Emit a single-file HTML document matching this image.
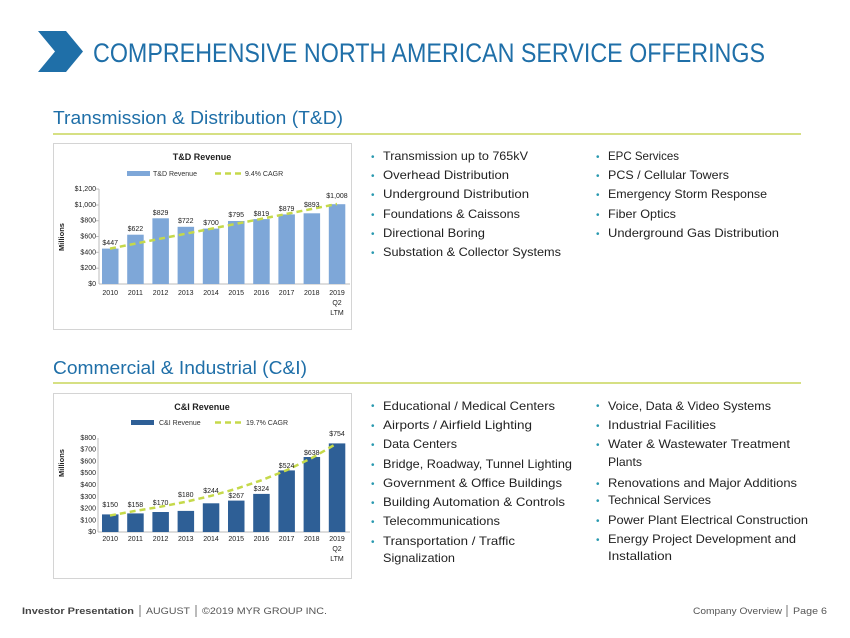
<!DOCTYPE html>
<html><head><meta charset="utf-8"><style>
html,body{margin:0;padding:0;background:#fff;}
svg{display:block;font-family:"Liberation Sans",sans-serif;}
</style></head><body>
<svg width="850" height="638" viewBox="0 0 850 638" xmlns="http://www.w3.org/2000/svg">
<rect width="850" height="638" fill="#fff"/>
<!-- header -->
<polygon points="38,31 66,31 83,51.5 66,72 38,72 55,51.5" fill="#1f6fa8"/>
<text x="93" y="62" font-size="27" fill="#1f6fa8" textLength="672" lengthAdjust="spacingAndGlyphs">COMPREHENSIVE NORTH AMERICAN SERVICE OFFERINGS</text>

<text x="53" y="124" font-size="18" fill="#1f6fa8" textLength="290" lengthAdjust="spacingAndGlyphs">Transmission &amp; Distribution (T&amp;D)</text>
<line x1="53" y1="134" x2="801" y2="134" stroke="#c8d65a" stroke-width="1.5"/>
<text x="53" y="374" font-size="18" fill="#1f6fa8" textLength="254" lengthAdjust="spacingAndGlyphs">Commercial &amp; Industrial (C&amp;I)</text>
<line x1="53" y1="383" x2="801" y2="383" stroke="#c8d65a" stroke-width="1.5"/>

<!-- chart 1 -->
<rect x="53.5" y="143.5" width="298" height="186" fill="#fff" stroke="#d4d4d4"/>
<text x="202" y="160" font-size="9" font-weight="bold" text-anchor="middle" fill="#222">T&amp;D Revenue</text>
<rect x="127" y="171" width="23" height="5" fill="#7ea7d8"/>
<text x="153" y="176" font-size="7" fill="#333">T&amp;D Revenue</text>
<line x1="215" y1="173.5" x2="243" y2="173.5" stroke="#c5d94a" stroke-width="2.5" stroke-dasharray="6,4"/>
<text x="245" y="176" font-size="7" fill="#333">9.4% CAGR</text>
<g font-size="7" fill="#222" text-anchor="end">
<text x="96" y="286">$0</text><text x="96" y="270">$200</text><text x="96" y="254.5">$400</text><text x="96" y="238.5">$600</text><text x="96" y="222.5">$800</text><text x="96" y="207">$1,000</text><text x="96" y="191">$1,200</text>
</g>
<g stroke="#bbb" stroke-width="1"><line x1="99" y1="189" x2="99" y2="284"/><line x1="99" y1="284" x2="350" y2="284"/>
<line x1="96" y1="189" x2="99" y2="189"/><line x1="96" y1="205" x2="99" y2="205"/><line x1="96" y1="220.7" x2="99" y2="220.7"/><line x1="96" y1="236.5" x2="99" y2="236.5"/><line x1="96" y1="252.3" x2="99" y2="252.3"/><line x1="96" y1="268.2" x2="99" y2="268.2"/></g>
<text x="0" y="0" font-size="7.5" font-weight="bold" fill="#222" transform="translate(64,237) rotate(-90)" text-anchor="middle">Millions</text>
<g fill="#7ea7d8">
<rect x="102" y="248.6" width="16.5" height="35.4"/>
<rect x="127.2" y="234.7" width="16.5" height="49.3"/>
<rect x="152.4" y="218.3" width="16.5" height="65.7"/>
<rect x="177.6" y="226.8" width="16.5" height="57.2"/>
<rect x="202.8" y="228.6" width="16.5" height="55.4"/>
<rect x="228" y="221" width="16.5" height="63"/>
<rect x="253.2" y="219.1" width="16.5" height="64.9"/>
<rect x="278.4" y="214.4" width="16.5" height="69.6"/>
<rect x="303.6" y="213.3" width="16.5" height="70.7"/>
<rect x="328.8" y="204.2" width="16.5" height="79.8"/>
</g>
<line x1="110" y1="248.6" x2="337" y2="204" stroke="#c5d94a" stroke-width="2.5" stroke-dasharray="6,4"/>
<g font-size="7" fill="#222" text-anchor="middle">
<text x="110.2" y="245">$447</text><text x="135.4" y="231">$622</text><text x="160.6" y="215">$829</text><text x="185.8" y="223">$722</text><text x="211" y="225">$700</text><text x="236.2" y="217">$795</text><text x="261.4" y="216">$819</text><text x="286.6" y="211">$879</text><text x="311.8" y="207">$893</text><text x="337" y="198">$1,008</text>
</g>
<g font-size="7" fill="#222" text-anchor="middle">
<text x="110.2" y="295">2010</text><text x="135.4" y="295">2011</text><text x="160.6" y="295">2012</text><text x="185.8" y="295">2013</text><text x="211" y="295">2014</text><text x="236.2" y="295">2015</text><text x="261.4" y="295">2016</text><text x="286.6" y="295">2017</text><text x="311.8" y="295">2018</text><text x="337" y="295">2019</text><text x="337" y="305">Q2</text><text x="337" y="315">LTM</text>
</g>

<!-- chart 2 -->
<rect x="53.5" y="393.5" width="298" height="185" fill="#fff" stroke="#d4d4d4"/>
<text x="202" y="410" font-size="9" font-weight="bold" text-anchor="middle" fill="#222">C&amp;I Revenue</text>
<rect x="131" y="420" width="23" height="5" fill="#2e5f96"/>
<text x="159" y="425" font-size="7" fill="#333">C&amp;I Revenue</text>
<line x1="215" y1="422.5" x2="243" y2="422.5" stroke="#c5d94a" stroke-width="2.5" stroke-dasharray="6,4"/>
<text x="246" y="425" font-size="7" fill="#333">19.7% CAGR</text>
<g font-size="7" fill="#222" text-anchor="end">
<text x="96" y="534">$0</text><text x="96" y="522.5">$100</text><text x="96" y="510.5">$200</text><text x="96" y="499">$300</text><text x="96" y="487">$400</text><text x="96" y="475">$500</text><text x="96" y="463.5">$600</text><text x="96" y="451.5">$700</text><text x="96" y="440">$800</text>
</g>
<g stroke="#bbb" stroke-width="1"><line x1="98" y1="438" x2="98" y2="532"/><line x1="98" y1="532" x2="350" y2="532"/></g>
<text x="0" y="0" font-size="7.5" font-weight="bold" fill="#222" transform="translate(64,463) rotate(-90)" text-anchor="middle">Millions</text>
<g fill="#2e5f96">
<rect x="102" y="514.4" width="16.5" height="17.6"/>
<rect x="127.2" y="513.4" width="16.5" height="18.6"/>
<rect x="152.4" y="512" width="16.5" height="20"/>
<rect x="177.6" y="510.9" width="16.5" height="21.1"/>
<rect x="202.8" y="503.3" width="16.5" height="28.7"/>
<rect x="228" y="500.6" width="16.5" height="31.4"/>
<rect x="253.2" y="493.9" width="16.5" height="38.1"/>
<rect x="278.4" y="470.4" width="16.5" height="61.6"/>
<rect x="303.6" y="457" width="16.5" height="75"/>
<rect x="328.8" y="443.4" width="16.5" height="88.6"/>
</g>
<polyline points="110,515.5 135.4,510.9 160.6,506.7 185.8,501.8 211,495.9 236.2,488.8 261.4,480.3 286.6,470.2 311.8,458 337,443.4" fill="none" stroke="#c5d94a" stroke-width="2.5" stroke-dasharray="6,4"/>
<g font-size="7" fill="#222" text-anchor="middle">
<text x="110.2" y="507">$150</text><text x="135.4" y="507">$158</text><text x="160.6" y="505">$170</text><text x="185.8" y="497">$180</text><text x="211" y="493">$244</text><text x="236.2" y="498">$267</text><text x="261.4" y="491">$324</text><text x="286.6" y="468">$524</text><text x="311.8" y="455">$638</text><text x="337" y="436">$754</text>
</g>
<g font-size="7" fill="#222" text-anchor="middle">
<text x="110.2" y="541">2010</text><text x="135.4" y="541">2011</text><text x="160.6" y="541">2012</text><text x="185.8" y="541">2013</text><text x="211" y="541">2014</text><text x="236.2" y="541">2015</text><text x="261.4" y="541">2016</text><text x="286.6" y="541">2017</text><text x="311.8" y="541">2018</text><text x="337" y="541">2019</text><text x="337" y="551">Q2</text><text x="337" y="561">LTM</text>
</g>

<!-- bullets -->
<g font-size="12" fill="#222">
<g fill="#2a9ab0" font-size="10"><text x="371" y="160">•</text><text x="371" y="179">•</text><text x="371" y="198">•</text><text x="371" y="218">•</text><text x="371" y="237">•</text><text x="371" y="256">•</text>
<text x="596" y="160">•</text><text x="596" y="179">•</text><text x="596" y="198">•</text><text x="596" y="218">•</text><text x="596" y="237">•</text></g>
<text x="383" y="160" textLength="145" lengthAdjust="spacingAndGlyphs">Transmission up to 765kV</text>
<text x="383" y="179" textLength="126" lengthAdjust="spacingAndGlyphs">Overhead Distribution</text>
<text x="383" y="198" textLength="146" lengthAdjust="spacingAndGlyphs">Underground  Distribution</text>
<text x="383" y="218" textLength="137" lengthAdjust="spacingAndGlyphs">Foundations &amp; Caissons</text>
<text x="383" y="237" textLength="102" lengthAdjust="spacingAndGlyphs">Directional Boring</text>
<text x="383" y="256" textLength="178" lengthAdjust="spacingAndGlyphs">Substation &amp; Collector Systems</text>
<text x="608" y="160" textLength="71" lengthAdjust="spacingAndGlyphs">EPC Services</text>
<text x="608" y="179" textLength="121" lengthAdjust="spacingAndGlyphs">PCS / Cellular Towers</text>
<text x="608" y="198" textLength="159" lengthAdjust="spacingAndGlyphs">Emergency Storm  Response</text>
<text x="608" y="218" textLength="68" lengthAdjust="spacingAndGlyphs">Fiber Optics</text>
<text x="608" y="237" textLength="171" lengthAdjust="spacingAndGlyphs">Underground  Gas Distribution</text>

<g fill="#2a9ab0" font-size="10"><text x="371" y="409">•</text><text x="371" y="429">•</text><text x="371" y="448">•</text><text x="371" y="468">•</text><text x="371" y="487">•</text><text x="371" y="506">•</text><text x="371" y="525">•</text><text x="371" y="545">•</text>
<text x="596" y="409">•</text><text x="596" y="429">•</text><text x="596" y="448">•</text><text x="596" y="487">•</text><text x="596" y="504">•</text><text x="596" y="524">•</text><text x="596" y="543">•</text></g>
<text x="383" y="410" textLength="172" lengthAdjust="spacingAndGlyphs">Educational / Medical Centers</text>
<text x="383" y="429" textLength="149" lengthAdjust="spacingAndGlyphs">Airports / Airfield Lighting</text>
<text x="383" y="448" textLength="74" lengthAdjust="spacingAndGlyphs">Data Centers</text>
<text x="383" y="468" textLength="189" lengthAdjust="spacingAndGlyphs">Bridge, Roadway, Tunnel Lighting</text>
<text x="383" y="487" textLength="179" lengthAdjust="spacingAndGlyphs">Government &amp; Office Buildings</text>
<text x="383" y="506" textLength="182" lengthAdjust="spacingAndGlyphs">Building Automation &amp; Controls</text>
<text x="383" y="525" textLength="117" lengthAdjust="spacingAndGlyphs">Telecommunications</text>
<text x="383" y="545" textLength="132" lengthAdjust="spacingAndGlyphs">Transportation / Traffic</text>
<text x="383" y="562" textLength="72" lengthAdjust="spacingAndGlyphs">Signalization</text>
<text x="608" y="410" textLength="163" lengthAdjust="spacingAndGlyphs">Voice, Data &amp; Video Systems</text>
<text x="608" y="429" textLength="108" lengthAdjust="spacingAndGlyphs">Industrial Facilities</text>
<text x="608" y="448" textLength="182" lengthAdjust="spacingAndGlyphs">Water &amp; Wastewater Treatment</text>
<text x="608" y="466" textLength="34" lengthAdjust="spacingAndGlyphs">Plants</text>
<text x="608" y="487" textLength="189" lengthAdjust="spacingAndGlyphs">Renovations and Major Additions</text>
<text x="608" y="504" textLength="103" lengthAdjust="spacingAndGlyphs">Technical Services</text>
<text x="608" y="524" textLength="200" lengthAdjust="spacingAndGlyphs">Power Plant Electrical Construction</text>
<text x="608" y="543" textLength="188" lengthAdjust="spacingAndGlyphs">Energy Project Development and</text>
<text x="608" y="560" textLength="64" lengthAdjust="spacingAndGlyphs">Installation</text>
</g>

<!-- footer -->
<g font-size="9.5" fill="#555">
<text x="22" y="614" font-weight="bold" fill="#444" textLength="112" lengthAdjust="spacingAndGlyphs">Investor Presentation</text>
<line x1="140" y1="605" x2="140" y2="617" stroke="#777"/>
<text x="146" y="614" textLength="44" lengthAdjust="spacingAndGlyphs">AUGUST</text>
<line x1="196" y1="605" x2="196" y2="617" stroke="#777"/>
<text x="202" y="614" textLength="125" lengthAdjust="spacingAndGlyphs">©2019 MYR GROUP INC.</text>
<text x="693" y="614" textLength="89" lengthAdjust="spacingAndGlyphs">Company Overview</text>
<line x1="787" y1="605" x2="787" y2="617" stroke="#777"/>
<text x="793" y="614" textLength="34" lengthAdjust="spacingAndGlyphs">Page 6</text>
</g>
</svg>
</body></html>
